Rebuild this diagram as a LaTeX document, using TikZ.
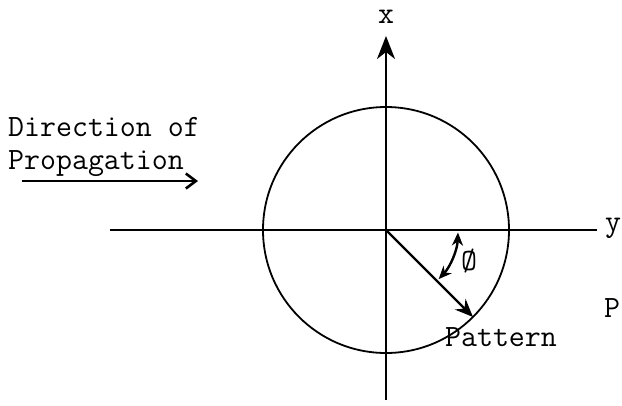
\documentclass[tikz,border=0pt]{standalone}
\usetikzlibrary{arrows.meta}

\tikzset{
  lbl/.style={font=\fontsize{31}{33}\selectfont\ttfamily, inner sep=0pt},
  axis/.style={line width=2.4pt},
}

\begin{document}
\begin{tikzpicture}[x=1pt, y=-1pt]
  \useasboundingbox (0,0) rectangle (622,405);

  %% Axes and origin
  \coordinate (O) at (386,230);
  \coordinate (xbot) at (386,400);
  \coordinate (xtop) at (386,36);
  \coordinate (yleft) at (110,230);
  \coordinate (yright) at (597,230);

  % x axis with arrow head
  \draw[axis, -{Stealth[length=23pt, width=18pt, inset=7pt]}] (xbot) -- (xtop);
  % y axis
  \draw[axis] (yleft) -- (yright);

  % Axis labels
  \node[lbl] (xlab) at (386,17) {x};
  \node[lbl] (ylab) at (613,228) {y};
  \node[lbl] (plab) at (612,308) {P};

  %% Pattern circle
  \draw[line width=1.8pt] (O) circle[radius=123];

  % Vector to the pattern point
  \coordinate (tip) at ({386+123*cos(45)},{230+123*sin(45)});
  \draw[line width=2.4pt, -{Stealth[length=18pt, width=15pt, inset=6pt]}] (O) -- (tip);
  \node[lbl] (pattern) at (501,337) {Pattern};

  % Angle phi
  \draw[line width=2.4pt, {Stealth[length=13pt, width=11pt, inset=4pt]}-{Stealth[length=13pt, width=11pt, inset=4pt]}]
    ({386+72*cos(2)},{230+72*sin(2)}) arc[start angle=2, end angle=43, radius=72];
  \node[lbl] (phi) at (469,261) {\O};

  %% Direction of propagation
  \node[lbl, align=left, anchor=north west] (dirlab) at (8,117)
    {Direction of\\Propagation};
  \coordinate (arrS) at (22,181);
  \coordinate (arrE) at (198,181);
  \draw[line width=2.4pt, -{Straight Barb[length=10pt, width=15pt, line width=2.6pt]}] (arrS) -- (arrE);
\end{tikzpicture}
\end{document}
